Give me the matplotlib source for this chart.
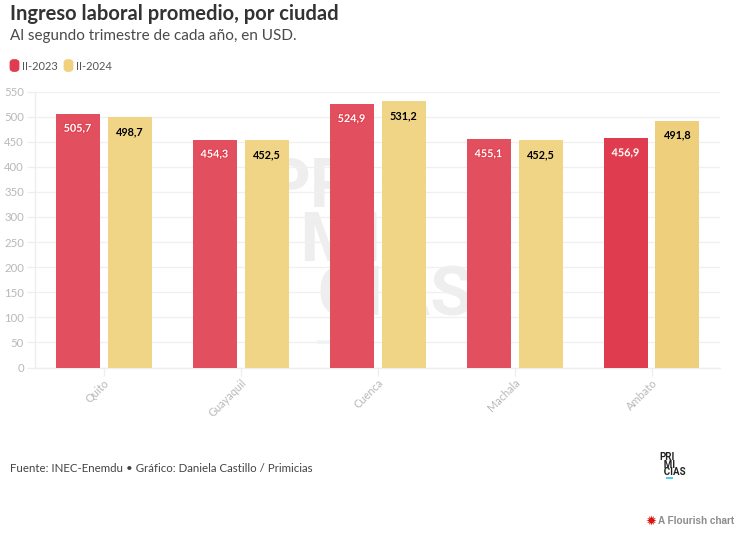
import matplotlib
matplotlib.use("Agg")
import matplotlib.pyplot as plt
from matplotlib.patches import FancyBboxPatch, Rectangle
import matplotlib.patheffects as pe
import numpy as np

cities = ["Quito", "Guayaquil", "Cuenca", "Machala", "Ambato"]
v2023 = [505.7, 454.3, 524.9, 455.1, 456.9]
v2024 = [498.7, 452.5, 531.2, 452.5, 491.8]
labels2023 = ["505,7", "454,3", "524,9", "455,1", "456,9"]
labels2024 = ["498,7", "452,5", "531,2", "452,5", "491,8"]
yticks = list(range(0, 551, 50))
colors2023 = ["#E25060", "#E25060", "#E25060", "#E25060", "#E03C50"]
colors2024 = ["#F1D586", "#F1D586", "#F1D586", "#F1D586", "#EED07C"]

W, H = 745, 533
plt.rcParams["font.family"] = ["Lato", "DejaVu Sans"]
fig = plt.figure(figsize=(W / 100, H / 100), dpi=100)
L, R, T, B = 35, 720, 91.5, 367.5
ax = fig.add_axes([L / W, 1 - B / H, (R - L) / W, (B - T) / H])
ax.patch.set_alpha(0)
ax.set_xlim(-0.5, 4.5)
ax.set_ylim(0, 550)
x = np.arange(len(cities))
bw = 44 / 137
off = 26 / 137
ax.bar(x - off, v2023, bw, color=colors2023, zorder=3)
ax.bar(x + off, v2024, bw, color=colors2024, zorder=3)
for i in x:
    ax.annotate(labels2023[i], (i - off, v2023[i]), xytext=(0, -9), textcoords="offset pixels",
                ha="center", va="top", fontsize=7.8, fontweight="bold", color="white", zorder=6,
                path_effects=[pe.withStroke(linewidth=1.5, foreground="#E0404F")])
    ax.annotate(labels2024[i], (i + off, v2024[i]), xytext=(0, -9), textcoords="offset pixels",
                ha="center", va="top", fontsize=7.8, fontweight="bold", color="black", zorder=6)

ax.set_yticks(yticks)
ax.set_xticks(x)
ax.set_xticklabels(cities, rotation=45, ha="right", rotation_mode="anchor",
                   fontsize=7.9, color="#B8B8B8")
ax.tick_params(axis="y", length=6, width=0.9, color="#EEEEEE", labelsize=8.2,
               labelcolor="#B8B8B8", pad=2)
ax.tick_params(axis="x", length=6, width=0.9, color="#EEEEEE", pad=1)
ax.grid(axis="y", color="#F0F0F0", linewidth=1, zorder=0)
ax.set_axisbelow(True)
for s in ["top", "right"]:
    ax.spines[s].set_visible(False)
for s in ["left", "bottom"]:
    ax.spines[s].set_color("#EEEEEE")
    ax.spines[s].set_linewidth(1)

def px(x_, y_):
    return x_ / W, 1 - y_ / H

# watermark, behind the axes
fig.text(*px(266, 315), "PRI\n  MI\n   CIAS", fontsize=50, fontweight="bold", color="#EEEEEE",
         ha="left", va="baseline", linespacing=0.78, zorder=-1,
         family=["Roboto", "DejaVu Sans"])
fig.add_artist(Rectangle(px(317, 344), 14 / W, 4 / H, transform=fig.transFigure,
                         facecolor="#EEF8FC", edgecolor="none", zorder=-1))

# heading
fig.text(*px(9.5, 20), "Ingreso laboral promedio, por ciudad", fontsize=14.5, fontweight="bold",
         color="#333333", va="baseline")
fig.text(*px(9.5, 40), "Al segundo trimestre de cada año, en USD.", fontsize=11.0,
         color="#4A4A4A", va="baseline")

# legend
for xp, col, lab in [(9.5, "#E03C50", "II-2023"), (63.5, "#F0D27E", "II-2024")]:
    fig.add_artist(FancyBboxPatch(px(xp + 1.5, 70.5), 7 / W, 10 / H,
                                  boxstyle="round,pad=0,rounding_size=0.004",
                                  transform=fig.transFigure, facecolor=col, edgecolor=col,
                                  linewidth=2))
    fig.text(*px(xp + 12.5, 70), lab, fontsize=8.0, color="#555555", va="baseline")

# footer
fig.text(*px(9.5, 472), "Fuente: INEC-Enemdu • Gráfico: Daniela Castillo / Primicias",
         fontsize=8.3, color="#444444", va="baseline")
fig.text(*px(659, 475), "PRI\n  MI\n  CIAS", fontsize=7, fontweight="bold", color="#222222",
         va="baseline", ha="left", linespacing=0.68, family=["Roboto", "DejaVu Sans"])
fig.add_artist(Rectangle(px(665.5, 478.5), 7 / W, 1.6 / H, transform=fig.transFigure,
                         facecolor="#4DD0F0", edgecolor="none"))

# Flourish credit
ax2 = fig.add_axes([0, 0, 1, 1], facecolor="none")
ax2.set_xlim(0, W); ax2.set_ylim(H, 0); ax2.axis("off")
ax2.scatter([650.5], [519.5], s=55, marker=(12, 1, 0), color="#D8140C", linewidths=0)
fig.text(*px(658, 523.5), "A Flourish chart", fontsize=7.2, fontweight="bold", color="#8C8C8C",
         family=["Liberation Sans", "DejaVu Sans"], va="baseline")

fig.savefig("out.png", dpi=100)
